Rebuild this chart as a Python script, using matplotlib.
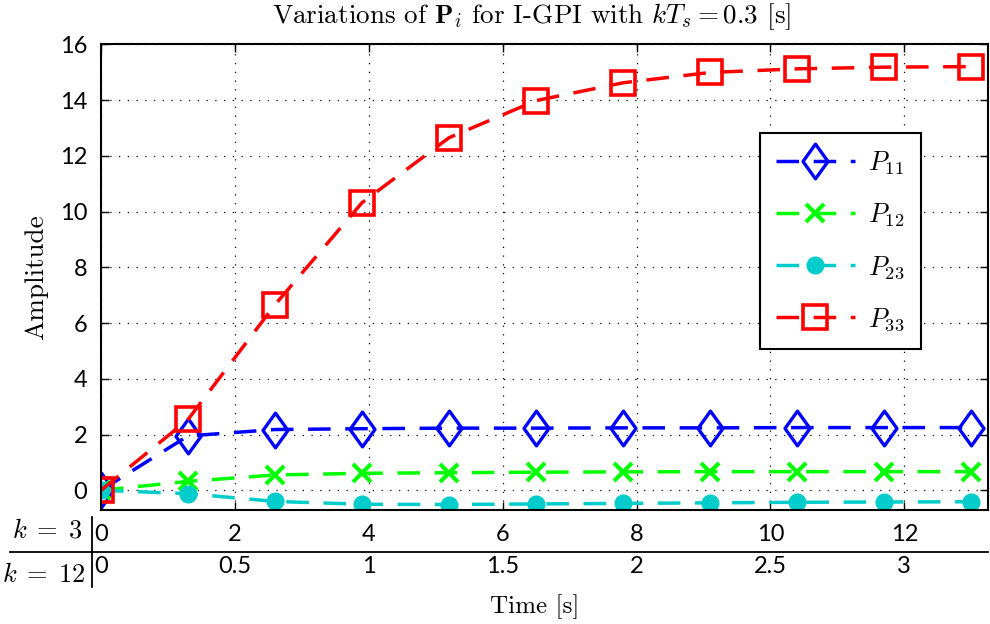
import numpy as np
import matplotlib.pyplot as plt
from matplotlib.lines import Line2D
from matplotlib.path import Path

plt.rcParams['mathtext.fontset'] = 'cm'
plt.rcParams['font.family'] = ['Lato', 'DejaVu Sans']

# samples every kTs = 1.3 (k = 3 axis units)
t = [0, 1.3, 2.6, 3.9, 5.2, 6.5, 7.8, 9.1, 10.4, 11.7, 13.0]
p11 = [0, 1.95, 2.18, 2.21, 2.23, 2.23, 2.24, 2.24, 2.25, 2.25, 2.25]
p12 = [0, 0.32, 0.55, 0.61, 0.63, 0.65, 0.66, 0.67, 0.67, 0.67, 0.67]
p23 = [0, -0.12, -0.40, -0.50, -0.51, -0.49, -0.47, -0.45, -0.43, -0.42, -0.41]
p33 = [0, 2.54, 6.66, 10.32, 12.65, 13.98, 14.62, 14.99, 15.12, 15.18, 15.2]

xticks_k3 = [0, 2, 4, 6, 8, 10, 12]
labels_k3 = ['0', '2', '4', '6', '8', '10', '12']
labels_k12 = ['0', '0.5', '1', '1.5', '2', '2.5', '3']
yticks = [0, 2, 4, 6, 8, 10, 12, 14, 16]

diamond = Path([(0, 1), (0.72, 0), (0, -1), (-0.72, 0), (0, 1)],
               [Path.MOVETO, Path.LINETO, Path.LINETO, Path.LINETO, Path.CLOSEPOLY])

fig = plt.figure(figsize=(9.9, 6.24), dpi=100)
ax = fig.add_axes([0.102, 0.183, 0.896, 0.746])

lw = 2.5
dash = (6.5, 4.2)
ax.plot(t, p11, color='#0000ff', lw=lw, dashes=dash, marker=diamond, ms=25,
        mfc='none', mec='#0000ff', mew=2.4, label='$P_{11}$')
ax.plot(t, p12, color='#00ff00', lw=lw, dashes=dash, marker='x', ms=13,
        mew=3, label='$P_{12}$')
ax.plot(t, p23, color='#00cccc', lw=lw, dashes=dash, marker='o', ms=12,
        mfc='#00cccc', mec='#00cccc', label='$P_{23}$')
ax.plot(t, p33, color='#ff0000', lw=lw, dashes=dash, marker='s', ms=17,
        mfc='none', mec='#ff0000', mew=2.6, label='$P_{33}$')

ax.set_xlim(0, 13.25)
ax.set_ylim(-0.7, 16)
ax.set_xticks(xticks_k3)
ax.set_xticklabels(labels_k3)
ax.set_yticks(yticks)
ax.tick_params(direction='in', top=True, right=True, length=6, width=1,
               labelsize=17, pad=10)
ax.grid(True, color='black', linestyle=(0, (1, 6)), linewidth=0.9)
for s in ax.spines.values():
    s.set_linewidth(1.5)

# second row of time labels for k = 12
sec = ax.secondary_xaxis(-0.097)
sec.set_xticks(xticks_k3)
sec.set_xticklabels(labels_k12)
sec.tick_params(length=0, labelsize=17, pad=1)
sec.spines['bottom'].set_visible(False)

ax.set_title(r'Variations of $\mathbf{P}_i$ for I-GPI with $kT_s = 0.3$ [s]',
             fontfamily='cmr10', fontsize=19.5, pad=15, x=0.485)
ax.set_ylabel('Amplitude', fontfamily='cmr10', fontsize=19.5, labelpad=8)
fig.text(0.54, 0.028, 'Time [s]', fontfamily='cmr10', fontsize=18,
         ha='center', va='center')

fig.text(0.083, 0.150, r'$k\;=\;3$', fontsize=19, ha='right', va='center')
fig.text(0.086, 0.079, r'$k\;=\;12$', fontsize=19, ha='right', va='center')
fig.add_artist(Line2D([0.01, 0.998], [0.115, 0.115], color='black', lw=1.3,
                      transform=fig.transFigure))
fig.add_artist(Line2D([0.093, 0.093], [0.06, 0.172], color='black', lw=1.3,
                      transform=fig.transFigure))

leg = ax.legend(loc='upper left', bbox_to_anchor=(0.743, 0.809),
                borderaxespad=0, fancybox=False, edgecolor='black',
                framealpha=1, fontsize=19, handlelength=3.0,
                labelspacing=0.95, borderpad=0.6, handletextpad=0.5)
leg.get_frame().set_linewidth(1.5)

fig.savefig('out.png', dpi=100)
